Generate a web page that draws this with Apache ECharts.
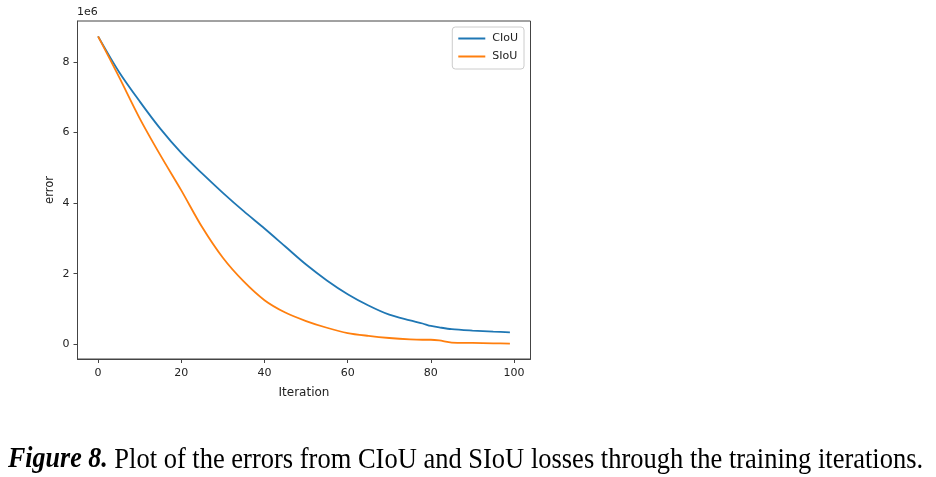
<!DOCTYPE html>
<html><head><meta charset="utf-8">
<script src="https://cdn.jsdelivr.net/npm/echarts@6/dist/echarts.min.js"></script>
<style>html,body{margin:0;padding:0;background:#fff}#c{width:936px;height:477px}</style>
</head><body><div id="c"></div>
<script>
const iterations = [0, 5, 10, 15, 20, 25, 30, 35, 40, 45, 50, 55, 60, 65, 70, 75, 78, 80, 82, 85, 90, 95, 99];
const ciou = [8.72e6, 7.72e6, 6.88e6, 6.10e6, 5.42e6, 4.84e6, 4.29e6, 3.77e6, 3.28e6, 2.77e6, 2.26e6, 1.81e6, 1.42e6, 1.10e6, 0.84e6, 0.68e6, 0.59e6, 0.52e6, 0.48e6, 0.43e6, 0.39e6, 0.36e6, 0.34e6];
const siou = [8.72e6, 7.58e6, 6.40e6, 5.35e6, 4.36e6, 3.32e6, 2.45e6, 1.78e6, 1.25e6, 0.90e6, 0.66e6, 0.47e6, 0.32e6, 0.24e6, 0.18e6, 0.14e6, 0.13e6, 0.13e6, 0.11e6, 0.05e6, 0.04e6, 0.03e6, 0.02e6];
const xTicks = [0, 20, 40, 60, 80, 100];
const yTicks = [0, 2e6, 4e6, 6e6, 8e6];
const seriesNames = ['CIoU', 'SIoU'];
const caption = 'Plot of the errors from CIoU and SIoU losses through the training iterations.';

const pair = (vals) => iterations.map((x, i) => [x, vals[i]]);
const font = 'DejaVu Sans';
const chart = echarts.init(document.getElementById('c'));
chart.setOption({
  animation: false,
  backgroundColor: '#fff',
  grid: { left: 77.5, right: 405.5, top: 21, bottom: 118, show: true, borderColor: '#444', borderWidth: 1, containLabel: false },
  legend: {
    orient: 'vertical', right: 412, top: 27, data: seriesNames,
    icon: 'rect', itemWidth: 27, itemHeight: 2, itemGap: 7,
    textStyle: { fontFamily: font, fontSize: 11, color: '#222', padding: [0, 0, 0, 2] },
    borderColor: '#ccc', borderWidth: 1, borderRadius: 3, padding: [6, 6, 7, 6], backgroundColor: '#fff'
  },
  xAxis: {
    type: 'value', min: -4.95, max: 103.95,
    name: 'Iteration', nameLocation: 'middle', nameGap: 28,
    nameTextStyle: { fontFamily: font, fontSize: 12, color: '#222' },
    axisLine: { show: true, onZero: false, lineStyle: { color: '#444' } }, splitLine: { show: false },
    axisTick: { show: true, length: 4, lineStyle: { color: '#444' }, customValues: xTicks },
    axisLabel: { fontFamily: font, fontSize: 11, color: '#222', margin: 9, customValues: xTicks }
  },
  yAxis: {
    type: 'value', min: -0.415e6, max: 9.155e6,
    name: 'error', nameLocation: 'middle', nameGap: 21, nameRotate: 90,
    nameTextStyle: { fontFamily: font, fontSize: 11.5, color: '#222' },
    axisLine: { show: true, onZero: false, lineStyle: { color: '#444' } }, splitLine: { show: false },
    axisTick: { show: true, length: 4, lineStyle: { color: '#444' }, customValues: yTicks },
    axisLabel: { fontFamily: font, fontSize: 11, color: '#222', margin: 8, customValues: yTicks, formatter: v => String(Math.round(v / 1e6)) }
  },
  graphic: [
    { type: 'text', left: 77, top: 7, style: { text: '1e6', font: '11px "DejaVu Sans"', fill: '#222' } },
    { type: 'text', x: 8, y: 475, scaleY: 1.14, style: {
      text: '{b|Figure 8.} ' + caption, verticalAlign: 'bottom', align: 'left',
      rich: { b: { fontFamily: 'Liberation Serif', fontSize: 26, fontWeight: 'bold', fontStyle: 'italic', fill: '#000' } },
      fontFamily: 'Liberation Serif', fontSize: 26.5, fill: '#000' } }
  ],
  series: [
    { name: seriesNames[0], type: 'line', data: pair(ciou), smooth: 0.3, symbol: 'none', lineStyle: { color: '#1f77b4', width: 1.8 }, itemStyle: { color: '#1f77b4' } },
    { name: seriesNames[1], type: 'line', data: pair(siou), smooth: 0.3, symbol: 'none', lineStyle: { color: '#ff7f0e', width: 1.8 }, itemStyle: { color: '#ff7f0e' } }
  ]
});
</script></body></html>
